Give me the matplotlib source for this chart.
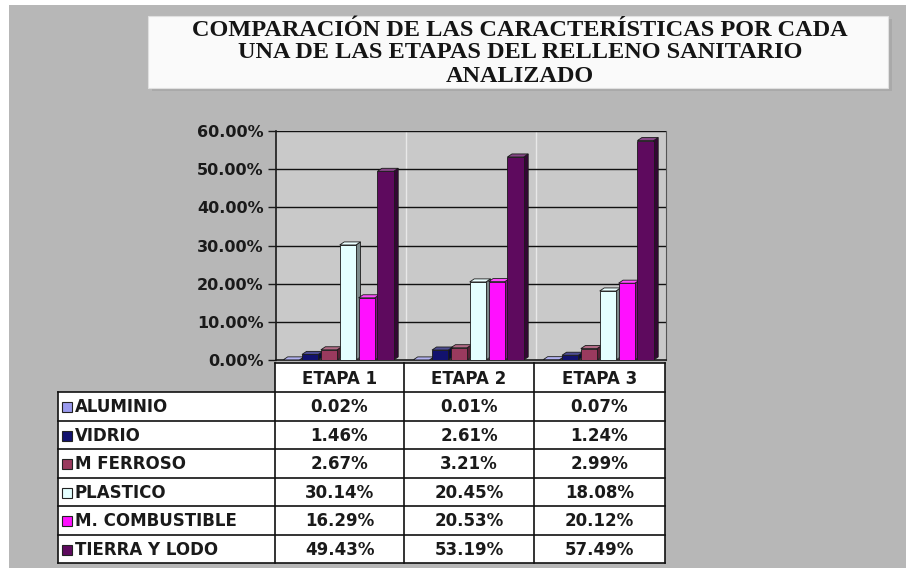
import matplotlib
matplotlib.use("Agg")
import matplotlib.pyplot as plt
from matplotlib.patches import Rectangle, Polygon
import numpy as np

# ---------------- data ----------------
etapas = ["ETAPA 1", "ETAPA 2", "ETAPA 3"]
materiales = ["ALUMINIO", "VIDRIO", "M FERROSO", "PLASTICO", "M. COMBUSTIBLE", "TIERRA Y LODO"]
aluminio = [0.02, 0.01, 0.07]
vidrio = [1.46, 2.61, 1.24]
m_ferroso = [2.67, 3.21, 2.99]
plastico = [30.14, 20.45, 18.08]
m_combustible = [16.29, 20.53, 20.12]
tierra_lodo = [49.43, 53.19, 57.49]
series = [aluminio, vidrio, m_ferroso, plastico, m_combustible, tierra_lodo]
colores = ["#9a9aee", "#12126e", "#9a3a5e", "#e4ffff", "#ff10ff", "#5e0a5e"]
yticks = [0, 10, 20, 30, 40, 50, 60]
titulo = ["COMPARACIÓN DE LAS CARACTERÍSTICAS POR CADA",
          "UNA DE LAS ETAPAS DEL RELLENO SANITARIO",
          "ANALIZADO"]

W, H = 906, 568
fig = plt.figure(figsize=(W / 100, H / 100), dpi=100, facecolor="white")

# overlay axes in pixel coords (background, title, table)
bg = fig.add_axes([0, 0, 1, 1], zorder=0)
bg.set_xlim(0, W)
bg.set_ylim(H, 0)
bg.axis("off")
bg.add_patch(Rectangle((9, 5), W - 9, H - 5, facecolor="#b7b7b7", edgecolor="none"))

# title box
bg.add_patch(Rectangle((152, 19), 740, 72, facecolor="#a9a9a9", edgecolor="none"))
bg.add_patch(Rectangle((148, 16), 740, 72, facecolor="#fafafa", edgecolor="#e0e0e0", lw=0.8))
for i, line in enumerate(titulo):
    bg.text(520, 30 + 23 * i, line, ha="center", va="center",
            fontsize=17.5, fontweight="bold", family="Liberation Serif", color="#151515")

# ---------------- main 3D-like bar chart ----------------
def fx(x):
    return x / W

def fy(y):
    return 1 - y / H

ax_l, ax_r, ax_t, ax_b = 276, 666, 131, 360
ax = fig.add_axes([fx(ax_l), fy(ax_b), fx(ax_r) - fx(ax_l), fy(ax_t) - fy(ax_b)], zorder=1)
ax.set_facecolor("#c9c9c9")
ax.set_xlim(-0.5, 2.5)
ax.set_ylim(0, 60)

x = np.arange(len(etapas))
offsets = [-0.365, -0.22, -0.075, 0.07, 0.215, 0.36]
w = 0.125
dx, dy = 0.035, 0.8

# back wall vertical separators
for b in [0.5, 1.5]:
    ax.axvline(b, color="#e8e8e8", lw=1.0, zorder=1)
for t in yticks[1:]:
    ax.axhline(t, color="#111111", lw=1.0, zorder=1)


def shade(c, f):
    c = np.array(matplotlib.colors.to_rgb(c))
    if f < 1:
        return tuple(c * f)
    return tuple(c + (1 - c) * (f - 1))


for s, (vals, col, off) in enumerate(zip(series, colores, offsets)):
    xs = x + off - dx / 2
    ax.bar(xs, vals, width=w, color=col, edgecolor="#1a1a1a", lw=0.6, zorder=3)
    for xi, v in zip(xs, vals):
        r = xi + w / 2
        l = xi - w / 2
        side = Polygon([(r, 0), (r + dx, dy), (r + dx, v + dy), (r, v)],
                       closed=True, facecolor=shade(col, 0.55), edgecolor="#1a1a1a", lw=0.6, zorder=2)
        top = Polygon([(l, v), (r, v), (r + dx, v + dy), (l + dx, v + dy)],
                      closed=True, facecolor=shade(col, 1.25), edgecolor="#1a1a1a", lw=0.6, zorder=3)
        ax.add_patch(side)
        ax.add_patch(top)

ax.set_yticks(yticks)
ax.set_yticklabels([f"{t:.2f}%" for t in yticks], fontsize=11.5, fontweight="bold",
                   family="DejaVu Sans", color="#1a1a1a")
ax.tick_params(axis="y", length=6, width=1, color="#1a1a1a", pad=3)
ax.set_xticks([])
ax.spines["top"].set_visible(False)
ax.spines["left"].set_color("#1a1a1a")
ax.spines["right"].set_color("#555555")
ax.spines["bottom"].set_color("#1a1a1a")
ax.spines["left"].set_linewidth(1.2)
ax.spines["bottom"].set_linewidth(1.2)

# ---------------- data table ----------------
col_edges = [58, 275, 404, 534, 665]
hdr_top, row_top, row_h = 363, 392, 28.5
n_rows = len(materiales)
tab_bottom = row_top + n_rows * row_h
lc = "#111111"
lw = 1.2

bg.add_patch(Rectangle((col_edges[1], hdr_top), col_edges[-1] - col_edges[1], row_top - hdr_top,
                       facecolor="white", edgecolor="none", zorder=2))
bg.add_patch(Rectangle((col_edges[0], row_top), col_edges[-1] - col_edges[0], tab_bottom - row_top,
                       facecolor="white", edgecolor="none", zorder=2))
bg.plot([col_edges[1], col_edges[-1]], [hdr_top, hdr_top], color=lc, lw=lw, zorder=3)
for i in range(n_rows + 1):
    yy = row_top + i * row_h
    bg.plot([col_edges[0], col_edges[-1]], [yy, yy], color=lc, lw=lw, zorder=3)
bg.plot([col_edges[0], col_edges[0]], [row_top, tab_bottom], color=lc, lw=lw, zorder=3)
for ce in col_edges[1:]:
    bg.plot([ce, ce], [hdr_top, tab_bottom], color=lc, lw=lw, zorder=3)

tfont = dict(fontsize=12, fontweight="bold", family="DejaVu Sans", color="#1a1a1a", zorder=4)
for j, et in enumerate(etapas):
    cx = (col_edges[j + 1] + col_edges[j + 2]) / 2
    bg.text(cx, (hdr_top + row_top) / 2 + 1, et, ha="center", va="center", **tfont)

for i, (name, vals, col) in enumerate(zip(materiales, series, colores)):
    cy = row_top + (i + 0.5) * row_h + 1
    bg.add_patch(Rectangle((62, cy - 5), 10, 10, facecolor=col, edgecolor="#222222", lw=0.8, zorder=4))
    bg.text(75, cy, name, ha="left", va="center", **tfont)
    for j, v in enumerate(vals):
        cx = (col_edges[j + 1] + col_edges[j + 2]) / 2
        bg.text(cx, cy, f"{v:.2f}%", ha="center", va="center", **tfont)

fig.savefig("out.png", dpi=100, facecolor=fig.get_facecolor())
